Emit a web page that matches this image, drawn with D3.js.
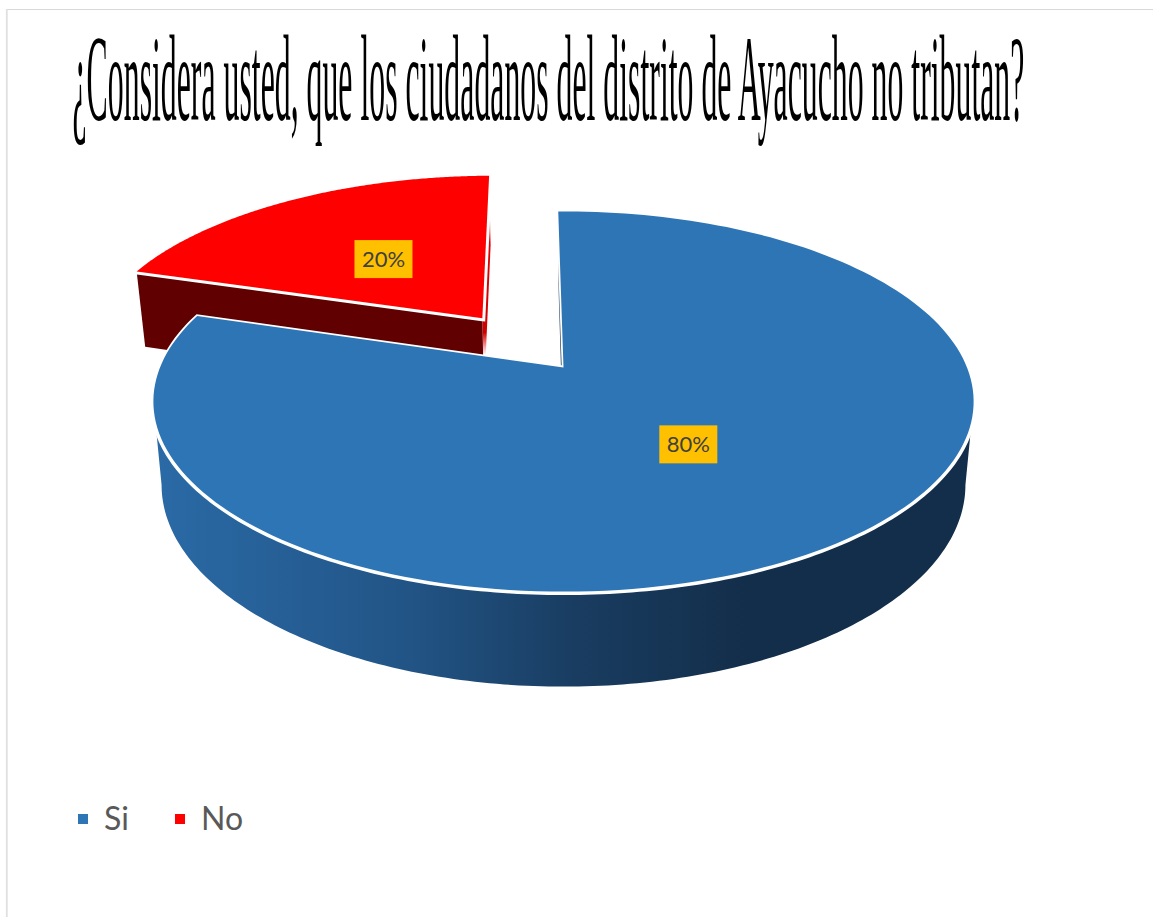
<!DOCTYPE html>
<html lang="es">
<head>
<meta charset="utf-8">
<title>Tributación en Ayacucho</title>
<script src="https://cdn.jsdelivr.net/npm/d3@7/dist/d3.min.js"></script>
<style>
  html, body { margin: 0; padding: 0; background: #fff; }
  svg { display: block; }
</style>
</head>
<body>
<svg id="chart" width="1153" height="917"></svg>
<script>
const titleText = "¿Considera usted, que los ciudadanos del distrito de Ayacucho no tributan?";
const categories = ["Si", "No"];
const values = [80, 20];
const sliceColors = ["#2E75B6", "#FF0000"];
const wallColors = ["#132E4A", "#600000"];
const explodeAmount = [0, 0.352];

const W = 1153, H = 917;
const svg = d3.select("#chart");
const defs = svg.append("defs");
const tau = Math.PI * 2;

// Perspective projection of the unit disc onto the page.
const view = { cx: 563.5, cy: 367.5, ax: 403.5, by: 184, k: 0.179, rot: -0.88 * Math.PI / 180 };
const project = ([x, y]) => {
  const w = 1 - view.k * y;
  return [view.cx + view.ax * x / w, view.cy + view.by * y / w];
};
// The base of the pie: the top face pushed down and slightly narrowed.
const lower = ([X, Y]) => [view.cx + 0.98 * (X - view.cx), 1.0612 * Y + 58.8];

const color = d3.scaleOrdinal().domain(categories).range(sliceColors);
const wallColor = d3.scaleOrdinal().domain(categories).range(wallColors);
const explode = d3.scaleOrdinal().domain(categories).range(explodeAmount);

const pie = d3.pie().sort(null).value(d => d.value)
  .startAngle(view.rot).endAngle(view.rot + tau);
const arcs = pie(categories.map((name, i) => ({ name, value: values[i] })));
const total = d3.sum(values);
const pct = d3.format(".0%");
const line = d3.line();

// Disc coordinates for a given pie angle and radius, moved out along the bisector if exploded.
function discPoint(d, angle, r) {
  const mid = (d.startAngle + d.endAngle) / 2, e = explode(d.data.name);
  return [r * Math.sin(angle) + e * Math.sin(mid), -r * Math.cos(angle) - e * Math.cos(mid)];
}
const rimAngles = (a0, a1) => d3.range(0, 181).map(i => a0 + (a1 - a0) * i / 180);
const facePoints = d => [
  project(discPoint(d, 0, 0)),
  ...rimAngles(d.startAngle, d.endAngle).map(a => project(discPoint(d, a, 1)))
];

// Gradients
function linear(id, x1, y1, x2, y2, stops) {
  const g = defs.append("linearGradient").attr("id", id).attr("gradientUnits", "userSpaceOnUse")
    .attr("x1", x1).attr("y1", y1).attr("x2", x2).attr("y2", y2);
  stops.forEach(([o, c, a]) => g.append("stop").attr("offset", o).attr("stop-color", c).attr("stop-opacity", a === undefined ? 1 : a));
}
linear("blueSide", 155, 0, 975, 0, [[0, "#2A6AA6"], [0.3, "#225587"], [0.52, "#193C60"], [0.72, "#132E4A"], [1, "#132E4A"]]);
linear("blueCut", 0, 250, 0, 365, [[0, "#132E4A", 0.1], [0.4, "#3A5570"], [1, "#132E4A"]]);
linear("redCut", 0, 205, 0, 355, [[0, "#FF0000", 0], [0.25, "#E00000"], [0.85, "#D00000"], [1, "#FF0000", 0]]);

// Chart frame
svg.append("line").attr("x1", 6).attr("x2", W).attr("y1", 9.5).attr("y2", 9.5)
  .attr("stroke", "#D9D9D9").attr("stroke-width", 1.2);
svg.append("line").attr("x1", 6.8).attr("x2", 6.8).attr("y1", 9).attr("y2", H)
  .attr("stroke", "#E0E0E0").attr("stroke-width", 1.8);

// Title, condensed horizontally to span the plot width
const titleNode = svg.append("text")
  .attr("font-family", "'Liberation Serif', serif").attr("font-size", 122)
  .attr("fill", "#000").text(titleText);
const titleWidth = 952;
titleNode.attr("transform", `translate(72.5,120) scale(${titleWidth / titleNode.node().getComputedTextLength()},1)`);

const [si, no] = arcs;

// Exploded slice: walls, then face
const gNo = svg.append("g");
{
  const v = project(discPoint(no, 0, 0));
  const tip = project(discPoint(no, no.startAngle, 1));
  const end = project(discPoint(no, no.endAngle, 1));
  gNo.append("path").attr("fill", "url(#redCut)")
    .attr("d", line([end, lower(end), lower(v), v]) + "Z");
  gNo.append("path").attr("fill", wallColor(no.data.name))
    .attr("d", line([tip, v, lower(v), lower(tip)]) + "Z");
  gNo.append("path").attr("d", line(facePoints(no)) + "Z")
    .attr("fill", "#fff").attr("stroke", "#fff").attr("stroke-width", 6);
  gNo.append("path").attr("d", line(facePoints(no)) + "Z").attr("fill", color(no.data.name));
}

// Main slice: inner cut, curved side, then face
const gSi = svg.append("g");
{
  const v = project(discPoint(si, 0, 0));
  const start = project(discPoint(si, si.startAngle, 1));
  gSi.append("path").attr("fill", "url(#blueCut)")
    .attr("d", line([start, lower(start), lower(v), v]) + "Z");
  const sideEdge = Math.acos(-view.k);
  const rim = rimAngles(sideEdge, tau - sideEdge).map(a => project(discPoint(si, a, 1)));
  gSi.append("path").attr("fill", "url(#blueSide)")
    .attr("d", line([...rim, ...rim.map(lower).reverse()]) + "Z");
  gSi.append("path").attr("d", line(rim)).attr("fill", "none")
    .attr("stroke", "#fff").attr("stroke-width", 7);
  gSi.append("path").attr("d", line(facePoints(si)) + "Z")
    .attr("fill", "#fff").attr("stroke", "#fff").attr("stroke-width", 3.6);
  gSi.append("path").attr("d", line(facePoints(si)) + "Z").attr("fill", color(si.data.name));
}

// Percentage labels on gold boxes
const labelBox = { w: 58, h: 38 };
const labels = svg.append("g").selectAll("g").data(arcs).join("g")
  .attr("transform", d => {
    const [x, y] = project(discPoint(d, (d.startAngle + d.endAngle) / 2, 0.48));
    return `translate(${x},${y + 1})`;
  });
labels.append("rect").attr("x", -labelBox.w / 2).attr("y", -labelBox.h / 2)
  .attr("width", labelBox.w).attr("height", labelBox.h).attr("fill", "#FFC000");
labels.append("text").attr("text-anchor", "middle").attr("y", 8)
  .attr("font-family", "Lato, 'Open Sans', sans-serif").attr("font-size", 22)
  .attr("fill", "#404040").text(d => pct(d.data.value / total));

// Legend
const legendX = d3.scaleOrdinal().domain(categories).range([78, 175]);
const legend = svg.append("g").selectAll("g").data(categories).join("g")
  .attr("transform", d => `translate(${legendX(d)},814)`);
legend.append("rect").attr("width", 10).attr("height", 10).attr("fill", d => color(d));
legend.append("text").attr("x", 26).attr("y", 16)
  .attr("font-family", "Lato, 'Open Sans', sans-serif").attr("font-size", 32)
  .attr("fill", "#595959").text(d => d);
</script>
</body>
</html>
